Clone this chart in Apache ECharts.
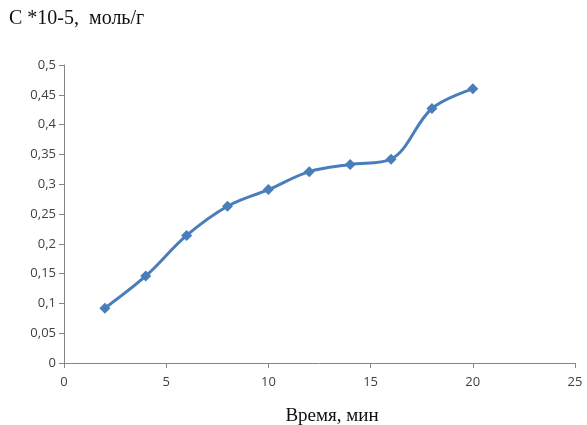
<!DOCTYPE html>
<html><head><meta charset="utf-8">
<script src="https://cdn.jsdelivr.net/npm/echarts@6/dist/echarts.min.js"></script>
<style>html,body{margin:0;padding:0;background:#fff}#c{width:587px;height:425px}</style>
</head><body><div id="c"></div>
<script>
const timeMin = [2, 4, 6, 8, 10, 12, 14, 16, 18, 20];
const concentration = [0.092, 0.146, 0.214, 0.263, 0.291, 0.321, 0.333, 0.342, 0.427, 0.460];
const yTitle = 'С *10-5,  моль/г';
const xTitle = 'Время, мин';

const chart = echarts.init(document.getElementById('c'), null, {renderer: 'canvas'});
const comma = v => String(Math.round(v * 100) / 100).replace('.', ',');
chart.setOption({
  animation: false,
  backgroundColor: '#fff',
  title: {
    text: yTitle, left: 4, top: 4,
    textStyle: {fontFamily: 'Liberation Serif', fontSize: 20, fontWeight: 'normal', color: '#111'}
  },
  grid: {left: 64, right: 12, top: 65, bottom: 62, outerBoundsMode: 'none', containLabel: false},
  xAxis: {
    type: 'value', min: 0, max: 25, interval: 5,
    name: xTitle, nameLocation: 'middle', nameGap: 44,
    nameTextStyle: {fontFamily: 'Liberation Serif', fontSize: 19, color: '#111', padding: [0, 0, 0, 25]},
    axisLine: {show: true, lineStyle: {color: '#868686', width: 1}},
    axisTick: {show: true, length: 5, lineStyle: {color: '#868686'}},
    axisLabel: {fontFamily: 'Open Sans', fontSize: 13, color: '#404040', margin: 13},
    splitLine: {show: false}
  },
  yAxis: {
    type: 'value', min: 0, max: 0.5, interval: 0.05,
    axisLine: {show: true, lineStyle: {color: '#868686', width: 1}},
    axisTick: {show: true, length: 5, lineStyle: {color: '#868686'}},
    axisLabel: {fontFamily: 'Open Sans', fontSize: 13, color: '#404040', margin: 8, formatter: comma},
    splitLine: {show: false}
  },
  series: [{
    type: 'line',
    data: timeMin.map((t, i) => [t, concentration[i]]),
    smooth: 0.35,
    symbol: 'diamond', symbolSize: 11,
    lineStyle: {color: '#4a7ebb', width: 3},
    itemStyle: {color: '#4a7ebb'}
  }]
});
</script></body></html>
